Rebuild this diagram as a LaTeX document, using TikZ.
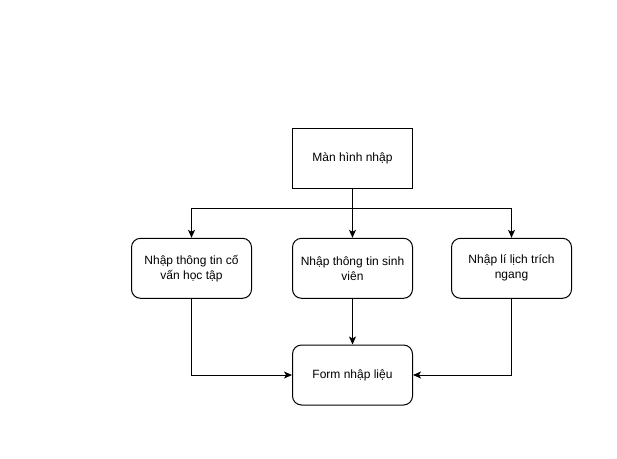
\documentclass[tikz,border=0pt]{standalone}
\usepackage{fontspec}
\setmainfont{Liberation Sans}
\usetikzlibrary{arrows.meta}
\tikzset{
  hop/.style={rectangle,draw,line width=1pt,minimum width=120pt,minimum height=60pt,inner sep=0pt,align=center,font=\fontsize{12}{15}\selectfont},
  hopbo/.style={hop,rounded corners=9pt},
  muiten/.style={line width=1pt,-{Stealth[length=8pt,width=7pt,inset=2pt]}}
}
\begin{document}
\begin{tikzpicture}[x=1pt,y=-1pt]
            \useasboundingbox (0,0) rectangle (617,458);
            %so do man hinh nhap lieu
            \node[hop] (manhinh) at (352.5,158.3) {Màn hình nhập};
            \node[hopbo] (covan) at (191.5,268.3) {Nhập thông tin cố\\vấn học tập};
            \node[hopbo] (sinhvien) at (352.5,268.3) {Nhập thông tin sinh\\viên};
            \node[hopbo] (lilich) at (511.5,268.3) {Nhập lí lịch trích\\ngang};
            \node[hopbo] (form) at (352.5,375) {Form nhập liệu};
            \coordinate (re) at (352.5,208.3);

            \draw[line width=1pt] (manhinh) -- (re);
            \draw[muiten] (re) -| (covan);
            \draw[muiten] (re) -- (sinhvien);
            \draw[muiten] (re) -| (lilich);
            \draw[muiten] (covan) |- (form);
            \draw[muiten] (sinhvien) -- (form);
            \draw[muiten] (lilich) |- (form);

        \end{tikzpicture}
\end{document}
